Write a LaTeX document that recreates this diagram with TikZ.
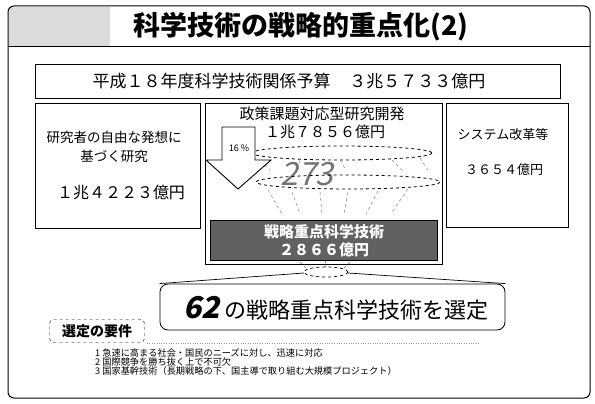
\documentclass[tikz,border=0pt]{standalone}
\usepackage{fontspec}
\setmainfont{Noto Sans CJK JP}
\newfontfamily\slantfont[FakeSlant=0.22]{Noto Sans CJK JP}
\begin{document}
\begin{tikzpicture}[x=1pt,y=-1pt,
  box/.style={draw, line width=0.8pt, inner sep=0pt},
  txt/.style={inner sep=0pt, font=\fontsize{12}{12}\selectfont},
  dsh/.style={draw, dashed, line width=0.8pt},
  spark/.style={draw=gray, dashed, line width=0.5pt}]
\useasboundingbox (0,0) rectangle (595,404);
% outer frame and title bar
\fill[black!14] (9,7) rectangle (110,47);
\draw[line width=1pt, rounded corners=6pt] (8,6) -- (590,6) -- (590,398) -- (8,398) -- cycle;
\draw[line width=1pt] (8,47) -- (590,47);
\node[txt, font=\fontsize{27}{27}\selectfont\bfseries] (title) at (301,27) {科学技術の戦略的重点化(2)};
% budget box
\node[box, minimum width=525pt, minimum height=34pt] (budget) at (297.5,81) {};
\node[txt, font=\fontsize{17}{17}\selectfont] (budgettxt) at (289,81) {平成１８年度科学技術関係予算\hspace{1.1em}３兆５７３３億円};
% left box
\node[box, minimum width=165pt, minimum height=125pt] (left) at (117.5,165.5) {};
\node[txt, font=\fontsize{13.5}{13.5}\selectfont] (l1) at (114,137) {研究者の自由な発想に};
\node[txt, font=\fontsize{13.5}{13.5}\selectfont] (l2) at (114,156) {基づく研究};
\node[txt, font=\fontsize{16}{16}\selectfont] (l3) at (121,192) {１兆４２２３億円};
% right box
\node[box, minimum width=122pt, minimum height=124pt] (right) at (507,165) {};
\node[txt, font=\fontsize{13}{13}\selectfont] (r1) at (503,135) {システム改革等};
\node[txt, font=\fontsize{13}{13}\selectfont] (r2) at (504,170) {３６５４億円};
% center box
\node[box, minimum width=237pt, minimum height=161pt] (center) at (323.5,183.5) {};
\node[txt, font=\fontsize{15}{15}\selectfont] (c1) at (322,114) {政策課題対応型研究開発};
\node[txt, font=\fontsize{15}{15}\selectfont] (c2) at (325,132) {１兆７８５６億円};
% ellipses and 273
\node[txt, font=\fontsize{32}{32}\selectfont\slantfont, text=black!55] (n273) at (307,174) {273};
\draw[dsh] (342,153) ellipse [x radius=90, y radius=7];
\draw[dsh] (348,182) ellipse [x radius=92, y radius=7];
% radiating dashed strokes
\foreach \a/\b/\c/\d in {268/190/282/214, 292/192/300/214, 320/192/322/214, 348/192/344/214, 378/191/366/214, 408/189/392/212, 260/161/270/170, 300/160/298/170, 340/160/346/170, 392/160/404/172, 420/158/428/170, 300/262/306/268, 325/260/325/267, 350/262/344/268}
  \draw[spark] (\a,\b) -- (\c,\d);
% block arrow
\draw[fill=white, line width=0.9pt] (222,127) -- (255,127) -- (255,160) -- (271,160) -- (238,189) -- (206,160) -- (222,160) -- cycle;
\node[txt, font=\fontsize{9}{9}\selectfont] (pct) at (239,148) {16 \%};
% grey box
\node[box, fill=black!62, minimum width=227pt, minimum height=40pt] (grey) at (323.5,240) {};
\node[txt, text=white, font=\fontsize{15}{15}\selectfont\bfseries] (g1) at (324,232) {戦略重点科学技術};
\node[txt, text=white, font=\fontsize{15}{15}\selectfont\bfseries] (g2) at (324,250) {２８６６億円};
% small ellipse and funnel
\draw[dsh, line width=0.7pt] (326,272) ellipse [x radius=22, y radius=5];
\coordinate (fl) at (304,273);
\coordinate (fr) at (348,273);
% selection box
\node[box, rounded corners=8pt, minimum width=345pt, minimum height=46pt] (sel) at (332.5,307) {};
\draw[line width=0.7pt] (fl) -- (sel.north west);
\draw[line width=0.7pt] (fr) -- (sel.north east);
\node[txt, anchor=west] (seltxt) at (183,308) {{\fontsize{30}{30}\selectfont\slantfont\bfseries 62}\hspace{0.4em}{\fontsize{22}{22}\selectfont の戦略重点科学技術を選定}};
% requirements
\node[draw, dashed, rounded corners=4pt, minimum width=95pt, minimum height=23pt, inner sep=0pt] (req) at (97,331) {};
\node[txt, font=\fontsize{14}{14}\selectfont\bfseries] (reqtxt) at (97,331) {選定の要件};
\draw[black!40, dotted] (147,343) -- (480,343);
\node[txt, anchor=west, font=\fontsize{9.2}{9.2}\selectfont] (i1) at (95,353) {1 急速に高まる社会・国民のニーズに対し、迅速に対応};
\node[txt, anchor=west, font=\fontsize{9.2}{9.2}\selectfont] (i2) at (95,362) {2 国際競争を勝ち抜く上で不可欠};
\node[txt, anchor=west, font=\fontsize{9.2}{9.2}\selectfont] (i3) at (95,371) {3 国家基幹技術（長期戦略の下、国主導で取り組む大規模プロジェクト）};
\end{tikzpicture}
\end{document}
